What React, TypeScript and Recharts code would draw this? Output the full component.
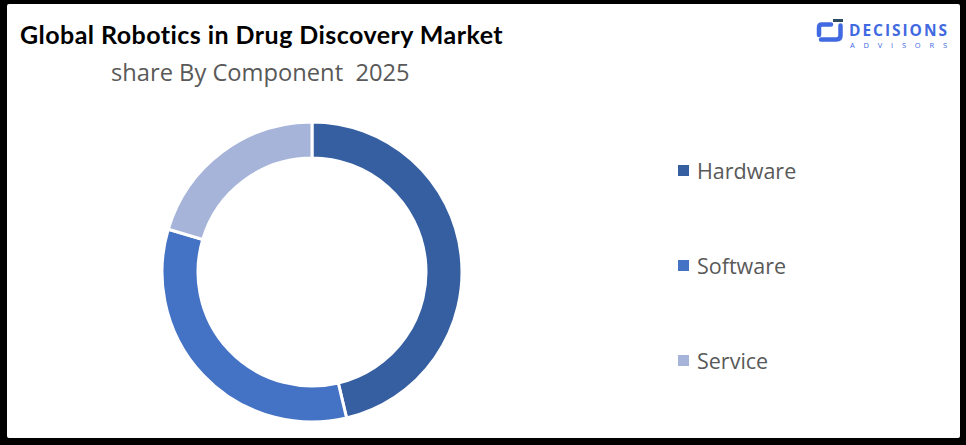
import React from "react";
import { PieChart, Pie, Cell } from "recharts";

const categories = ["Hardware", "Software", "Service"];
const shares = [46.3, 33.3, 20.4];
const colors = ["#365FA1", "#4472C4", "#A6B4D9"];

const data = categories.map((name, i) => ({ name, value: shares[i] }));

const Logo = () => (
  <svg width={150} height={45} style={{ position: "absolute", left: 810, top: 12 }}>
    <path d="M21 12.5 H12 Q9 12.5 9 15.5 V23" fill="none" stroke="#4169E1" strokeWidth={4.5} strokeLinecap="round" />
    <rect x={23} y={7} width={10} height={3} fill="#2E4A5E" />
    <path d="M30.5 13.5 V23.5 Q30.5 27.5 26.5 27.5 H11" fill="none" stroke="#4169E1" strokeWidth={4.5} strokeLinecap="round" />
    <text x={39} y={24} fontFamily="'Open Sans', sans-serif" fontWeight={700} fontSize={15.5} fill="#4169E1" textLength={98} lengthAdjust="spacing">DECISIONS</text>
    <text x={40} y={36} fontFamily="'Open Sans', sans-serif" fontWeight={400} fontSize={7.5} fill="#4169E1" textLength={97} lengthAdjust="spacing">ADVISORS</text>
  </svg>
);

export default function App() {
  return (
    <div style={{ position: "fixed", left: 0, top: 0, width: 966, height: 445, background: "#000" }}>
      <div style={{ position: "absolute", left: 7, top: 4, width: 953, height: 434, background: "#fff", borderRadius: 2 }} />
      <div
        style={{
          position: "absolute",
          left: 20,
          top: 22,
          lineHeight: 1,
          fontFamily: "Lato, sans-serif",
          fontWeight: 700,
          fontSize: 25,
          letterSpacing: 0.45,
          color: "#000",
          whiteSpace: "nowrap",
        }}
      >
        Global Robotics in Drug Discovery Market
      </div>
      <div
        style={{
          position: "absolute",
          left: 111,
          top: 61,
          lineHeight: 1,
          fontFamily: "'Open Sans', sans-serif",
          fontSize: 23.7,
          color: "#595959",
          whiteSpace: "nowrap",
        }}
      >
        share By Component&nbsp; 2025
      </div>
      <Logo />
      <div style={{ position: "absolute", left: 0, top: 0 }}>
        <PieChart width={966} height={445} margin={{ top: 0, right: 0, bottom: 0, left: 0 }}>
          <Pie
            data={data}
            dataKey="value"
            nameKey="name"
            cx={312}
            cy={272}
            innerRadius={114}
            outerRadius={150}
            startAngle={90}
            endAngle={-270}
            stroke="#fff"
            strokeWidth={3}
            isAnimationActive={false}
          >
            {data.map((d, i) => (
              <Cell key={d.name} fill={colors[i]} />
            ))}
          </Pie>
        </PieChart>
      </div>
      <div style={{ position: "absolute", left: 678, top: 123, display: "flex", flexDirection: "column" }}>
        {categories.map((c, i) => (
          <div
            key={c}
            style={{
              display: "flex",
              alignItems: "center",
              height: 95,
              fontFamily: "'Open Sans', sans-serif",
              fontSize: 21.5,
              color: "#595959",
              whiteSpace: "nowrap",
            }}
          >
            <span style={{ display: "inline-block", width: 11, height: 11, background: colors[i], marginRight: 8 }} />
            <span>{c}</span>
          </div>
        ))}
      </div>
    </div>
  );
}
